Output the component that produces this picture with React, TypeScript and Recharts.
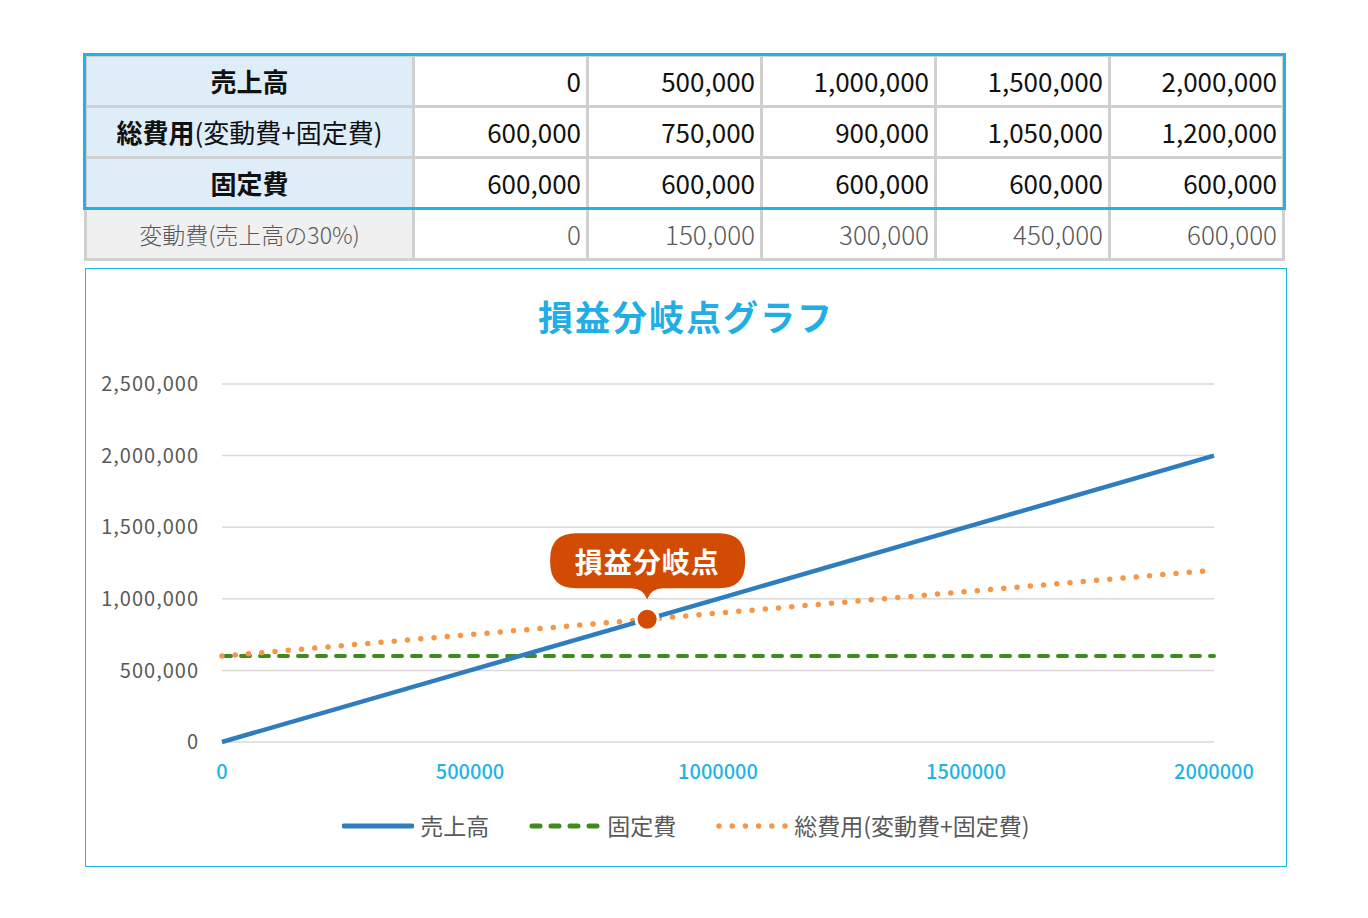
import { LineChart, Line, XAxis, YAxis, CartesianGrid, Legend, ReferenceDot } from "recharts";

const FONT = '"Noto Sans CJK JP", "Noto Sans", sans-serif';

// table rows
const salesRow = [0, 500000, 1000000, 1500000, 2000000];
const totalCostRow = [600000, 750000, 900000, 1050000, 1200000];
const fixedCostRow = [600000, 600000, 600000, 600000, 600000];
const variableCostRow = [0, 150000, 300000, 450000, 600000];

// chart
const xTicks = [0, 500000, 1000000, 1500000, 2000000];
const yTicks = [0, 500000, 1000000, 1500000, 2000000, 2500000];
const breakEvenSales = 857143;
const breakEvenCost = 857143;

const seriesNames = {
  sales: "売上高",
  fixed: "固定費",
  total: "総費用(変動費+固定費)",
};

const COLORS = {
  sales: "#2e7ebf",
  fixed: "#3f8c1c",
  total: "#f79646",
  accent: "#1fb3e6",
  callout: "#d14b02",
};

const chartData = salesRow.map((s, i) => ({
  sales: s,
  fixed: fixedCostRow[i],
  total: totalCostRow[i],
}));

const fmt = (v: number) => v.toLocaleString("en-US");

function Cell({ children, head, light, bg }: any) {
  return (
    <td
      style={{
        border: "3px solid #d0d0d0",
        height: 48,
        padding: head ? 0 : "0 5px 0 0",
        textAlign: head ? "center" : "right",
        background: bg,
        fontSize: light && head ? 23 : 26,
        fontWeight: light ? 300 : 400,
        color: light ? "#595959" : "#111",
        whiteSpace: "nowrap",
        lineHeight: 1,
        boxSizing: "border-box",
      }}
    >
      {children}
    </td>
  );
}

function DataTable() {
  const rows = [
    { label: <b>売上高</b>, values: salesRow },
    {
      label: (
        <>
          <b>総費用</b>(変動費+固定費)
        </>
      ),
      values: totalCostRow,
    },
    { label: <b>固定費</b>, values: fixedCostRow },
  ];
  return (
    <>
      <table
        style={{
          position: "absolute",
          left: 84,
          top: 54,
          width: 1200,
          borderCollapse: "collapse",
          tableLayout: "fixed",
          fontFamily: FONT,
        }}
      >
        <colgroup>
          <col style={{ width: 328 }} />
          {salesRow.map((_, i) => (
            <col key={i} style={{ width: 174 }} />
          ))}
        </colgroup>
        <tbody>
          {rows.map((r, ri) => (
            <tr key={ri} style={{ height: 51 }}>
              <Cell head bg="#deedf8">
                {r.label}
              </Cell>
              {r.values.map((v, i) => (
                <Cell key={i} bg="#fff">
                  {fmt(v)}
                </Cell>
              ))}
            </tr>
          ))}
          <tr style={{ height: 51 }}>
            <Cell head light bg="#f0f0f0">
              変動費(売上高の30%)
            </Cell>
            {variableCostRow.map((v, i) => (
              <Cell key={i} light bg="#fff">
                {fmt(v)}
              </Cell>
            ))}
          </tr>
        </tbody>
      </table>
      <div
        style={{
          position: "absolute",
          left: 83,
          top: 53,
          width: 1203,
          height: 157,
          border: `3px solid ${COLORS.accent}`,
          boxSizing: "border-box",
        }}
      />
    </>
  );
}

function LegendIcon({ kind }: { kind: "sales" | "fixed" | "total" }) {
  return (
    <svg width={72} height={12} style={{ marginRight: 6 }}>
      {kind === "sales" && (
        <line x1={2} y1={6} x2={70} y2={6} stroke={COLORS.sales} strokeWidth={5} strokeLinecap="round" />
      )}
      {kind === "fixed" && (
        <line
          x1={3}
          y1={6}
          x2={70}
          y2={6}
          stroke={COLORS.fixed}
          strokeWidth={5}
          strokeLinecap="round"
          strokeDasharray="8 11"
        />
      )}
      {kind === "total" && (
        <line
          x1={3}
          y1={6}
          x2={70}
          y2={6}
          stroke={COLORS.total}
          strokeWidth={5.5}
          strokeLinecap="round"
          strokeDasharray="0 13.2"
        />
      )}
    </svg>
  );
}

function ChartLegend() {
  const keys: ("sales" | "fixed" | "total")[] = ["sales", "fixed", "total"];
  return (
    <div style={{ display: "flex", justifyContent: "center", alignItems: "center", gap: 40 }}>
      {keys.map((k) => (
        <div key={k} style={{ display: "flex", alignItems: "center" }}>
          <LegendIcon kind={k} />
          <span style={{ fontFamily: FONT, fontSize: 23, color: "#595959", lineHeight: 1 }}>
            {seriesNames[k]}
          </span>
        </div>
      ))}
    </div>
  );
}

function Callout(props: any) {
  const { cx, cy } = props;
  if (cx == null || cy == null) return null;
  const top = cy - 86;
  const bottom = cy - 31;
  const left = cx - 97;
  const right = cx + 98;
  const r = 26;
  const d = [
    `M ${left + r} ${top}`,
    `L ${right - r} ${top}`,
    `Q ${right} ${top} ${right} ${top + r}`,
    `L ${right} ${bottom - r}`,
    `Q ${right} ${bottom} ${right - r} ${bottom}`,
    `L ${cx + 16} ${bottom}`,
    `Q ${cx + 4} ${bottom} ${cx} ${cy - 20}`,
    `Q ${cx - 4} ${bottom} ${cx - 16} ${bottom}`,
    `L ${left + r} ${bottom}`,
    `Q ${left} ${bottom} ${left} ${bottom - r}`,
    `L ${left} ${top + r}`,
    `Q ${left} ${top} ${left + r} ${top}`,
    "Z",
  ].join(" ");
  return (
    <g>
      <path d={d} fill={COLORS.callout} />
      <text
        x={cx}
        y={(top + bottom) / 2}
        textAnchor="middle"
        dominantBaseline="central"
        fill="#fff"
        fontFamily={FONT}
        fontSize={28}
        fontWeight={700}
        letterSpacing={1}
      >
        損益分岐点
      </text>
      <circle cx={cx} cy={cy} r={11} fill={COLORS.callout} stroke="#fff" strokeWidth={3} />
    </g>
  );
}

export default function App() {
  return (
    <div
      style={{
        position: "absolute",
        left: 0,
        top: 0,
        width: 1368,
        height: 918,
        background: "#fff",
        fontFamily: FONT,
      }}
    >
      <DataTable />
      <div
        style={{
          position: "absolute",
          left: 85,
          top: 268,
          width: 1202,
          height: 599,
          border: `1px solid ${COLORS.accent}`,
          boxSizing: "border-box",
        }}
      >
        <div
          style={{
            position: "absolute",
            left: 0,
            top: 26,
            width: "100%",
            textAlign: "center",
            fontSize: 35,
            fontWeight: 700,
            color: "#22aee5",
            letterSpacing: 2,
            lineHeight: 1.2,
          }}
        >
          損益分岐点グラフ
        </div>
        <LineChart
          width={1200}
          height={597}
          data={chartData}
          margin={{ top: 115, right: 72, bottom: 84, left: 16 }}
          style={{ position: "absolute", left: 0, top: 0 }}
        >
          <CartesianGrid vertical={false} stroke="#d9d9d9" strokeWidth={1.5} />
          <XAxis
            dataKey="sales"
            type="number"
            domain={[0, 2000000]}
            ticks={xTicks}
            axisLine={false}
            tickLine={false}
            tickMargin={17}
            height={40}
            tick={{ fill: COLORS.accent, fontSize: 20, fontWeight: 500, fontFamily: FONT }}
          />
          <YAxis
            type="number"
            domain={[0, 2500000]}
            ticks={yTicks}
            axisLine={false}
            tickLine={false}
            tickMargin={17}
            width={120}
            tickFormatter={fmt}
            tick={{ fill: "#595959", fontSize: 20, fontFamily: FONT, letterSpacing: 1 }}
          />
          <Line
            dataKey="fixed"
            stroke={COLORS.fixed}
            strokeWidth={4}
            strokeDasharray="9 10"
            strokeLinecap="round"
            dot={false}
            isAnimationActive={false}
          />
          <Line
            dataKey="total"
            stroke={COLORS.total}
            strokeWidth={5.5}
            strokeDasharray="0 13.3"
            strokeLinecap="round"
            dot={false}
            isAnimationActive={false}
          />
          <Line
            dataKey="sales"
            stroke={COLORS.sales}
            strokeWidth={4.5}
            dot={false}
            isAnimationActive={false}
          />
          <ReferenceDot
            x={breakEvenSales}
            y={breakEvenCost}
            r={11}
            ifOverflow="visible"
            shape={(p: any) => <Callout {...p} />}
          />
          <Legend
            layout="horizontal"
            verticalAlign="middle"
            align="center"
            wrapperStyle={{ top: 545, left: 0, width: 1200 }}
            content={() => <ChartLegend />}
          />
        </LineChart>
      </div>
    </div>
  );
}
